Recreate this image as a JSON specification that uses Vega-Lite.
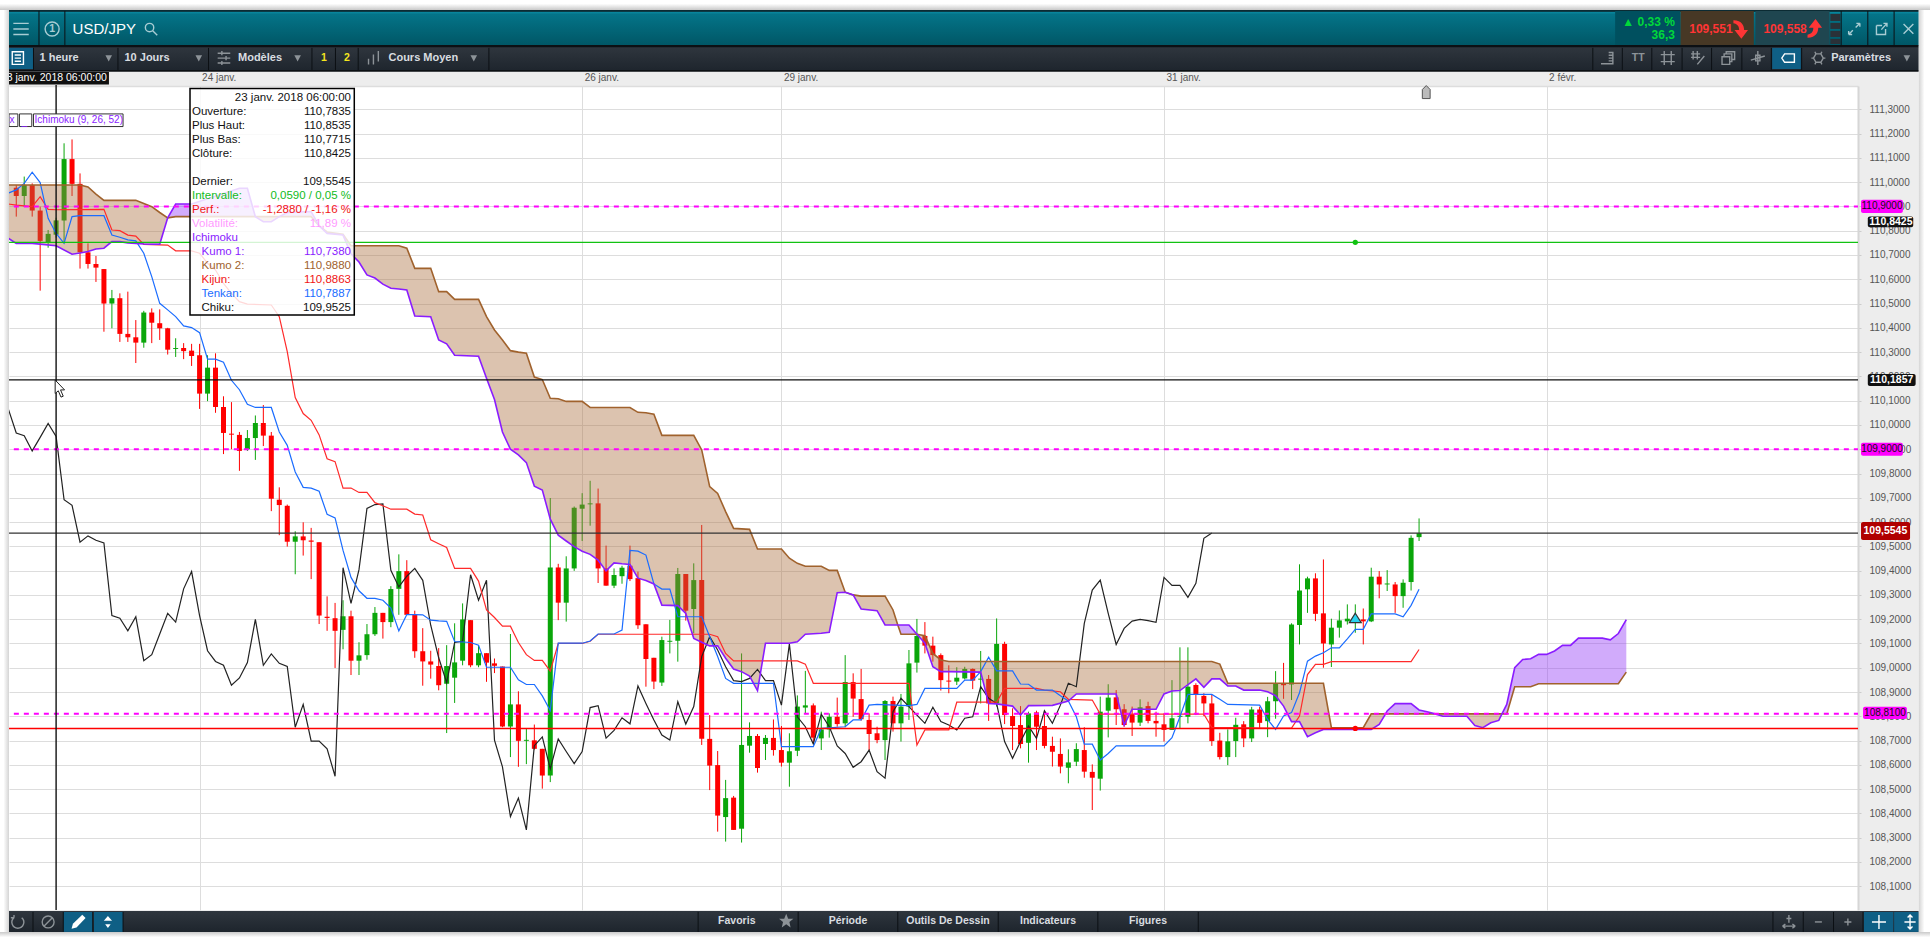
{
  "$schema": "https://vega.github.io/schema/vega-lite/v5.json",
  "width": 1849,
  "height": 824,
  "padding": {"left": 9, "top": 86, "right": 72, "bottom": 30},
  "autosize": {"type": "none"},
  "background": "#ededed",
  "config": {"font": "Liberation Sans", "view": {"fill": "#ffffff", "stroke": null}},
  "datasets": {
    "candles": [
      {"h":-23,"open":110.977,"high":110.988,"low":110.858,"close":110.943},
      {"h":-22,"open":110.943,"high":111.023,"low":110.899,"close":110.988},
      {"h":-21,"open":110.988,"high":110.995,"low":110.858,"close":110.883},
      {"h":-20,"open":110.883,"high":110.899,"low":110.553,"close":110.758},
      {"h":-19,"open":110.751,"high":110.803,"low":110.730,"close":110.787},
      {"h":-18,"open":110.7835,"high":110.8535,"low":110.7715,"close":110.8425},
      {"h":-17,"open":110.842,"high":111.160,"low":110.748,"close":111.095},
      {"h":-16,"open":111.095,"high":111.176,"low":110.943,"close":110.993},
      {"h":-15,"open":110.993,"high":111.036,"low":110.644,"close":110.711},
      {"h":-14,"open":110.711,"high":110.748,"low":110.644,"close":110.663},
      {"h":-13,"open":110.663,"high":110.696,"low":110.589,"close":110.648},
      {"h":-12,"open":110.642,"high":110.642,"low":110.384,"close":110.500},
      {"h":-11,"open":110.500,"high":110.556,"low":110.398,"close":110.522},
      {"h":-10,"open":110.522,"high":110.542,"low":110.342,"close":110.375},
      {"h":-9,"open":110.375,"high":110.549,"low":110.342,"close":110.361},
      {"h":-8,"open":110.361,"high":110.432,"low":110.255,"close":110.339},
      {"h":-7,"open":110.339,"high":110.470,"low":110.318,"close":110.463},
      {"h":-6,"open":110.463,"high":110.480,"low":110.337,"close":110.421},
      {"h":-5,"open":110.419,"high":110.476,"low":110.350,"close":110.398},
      {"h":-4,"open":110.398,"high":110.400,"low":110.290,"close":110.310},
      {"h":-3,"open":110.313,"high":110.357,"low":110.280,"close":110.317},
      {"h":-2,"open":110.317,"high":110.337,"low":110.271,"close":110.304},
      {"h":-1,"open":110.306,"high":110.334,"low":110.243,"close":110.284},
      {"h":0,"open":110.287,"high":110.334,"low":110.066,"close":110.129},
      {"h":1,"open":110.129,"high":110.287,"low":110.098,"close":110.236},
      {"h":2,"open":110.236,"high":110.295,"low":110.050,"close":110.074},
      {"h":3,"open":110.074,"high":110.118,"low":109.880,"close":109.967},
      {"h":4,"open":109.964,"high":110.094,"low":109.900,"close":109.960},
      {"h":5,"open":109.959,"high":109.971,"low":109.811,"close":109.893},
      {"h":6,"open":109.900,"high":109.979,"low":109.893,"close":109.946},
      {"h":7,"open":109.946,"high":110.039,"low":109.856,"close":110.008},
      {"h":8,"open":110.008,"high":110.082,"low":109.913,"close":109.956},
      {"h":9,"open":109.956,"high":109.971,"low":109.645,"close":109.696},
      {"h":10,"open":109.692,"high":109.743,"low":109.546,"close":109.670},
      {"h":11,"open":109.667,"high":109.672,"low":109.499,"close":109.519},
      {"h":12,"open":109.519,"high":109.562,"low":109.385,"close":109.541},
      {"h":13,"open":109.541,"high":109.599,"low":109.462,"close":109.525},
      {"h":14,"open":109.524,"high":109.576,"low":109.365,"close":109.519},
      {"h":15,"open":109.517,"high":109.517,"low":109.180,"close":109.215},
      {"h":16,"open":109.210,"high":109.294,"low":109.152,"close":109.205},
      {"h":17,"open":109.204,"high":109.267,"low":108.999,"close":109.152},
      {"h":18,"open":109.156,"high":109.278,"low":109.076,"close":109.212},
      {"h":19,"open":109.212,"high":109.235,"low":108.970,"close":109.029},
      {"h":20,"open":109.029,"high":109.105,"low":108.970,"close":109.051},
      {"h":21,"open":109.052,"high":109.180,"low":109.033,"close":109.138},
      {"h":22,"open":109.138,"high":109.250,"low":109.131,"close":109.226},
      {"h":23,"open":109.226,"high":109.226,"low":109.120,"close":109.188},
      {"h":24,"open":109.188,"high":109.336,"low":109.167,"close":109.324},
      {"h":25,"open":109.325,"high":109.467,"low":109.218,"close":109.398},
      {"h":26,"open":109.398,"high":109.443,"low":109.218,"close":109.218},
      {"h":27,"open":109.218,"high":109.235,"low":109.041,"close":109.068},
      {"h":28,"open":109.068,"high":109.163,"low":108.926,"close":109.026},
      {"h":29,"open":109.026,"high":109.070,"low":108.955,"close":109.013},
      {"h":30,"open":109.007,"high":109.081,"low":108.907,"close":108.928},
      {"h":31,"open":108.934,"high":109.093,"low":108.731,"close":109.007},
      {"h":32,"open":108.959,"high":109.183,"low":108.855,"close":109.022},
      {"h":33,"open":109.029,"high":109.265,"low":109.010,"close":109.199},
      {"h":34,"open":109.196,"high":109.196,"low":109.002,"close":109.010},
      {"h":35,"open":109.010,"high":109.093,"low":109.002,"close":109.060},
      {"h":36,"open":109.060,"high":109.060,"low":108.942,"close":109.021},
      {"h":37,"open":109.018,"high":109.038,"low":108.978,"close":109.008},
      {"h":38,"open":109.005,"high":109.005,"low":108.755,"close":108.758},
      {"h":39,"open":108.758,"high":109.139,"low":108.632,"close":108.849},
      {"h":40,"open":108.849,"high":108.903,"low":108.592,"close":108.699},
      {"h":41,"open":108.699,"high":108.750,"low":108.603,"close":108.703},
      {"h":42,"open":108.701,"high":108.766,"low":108.663,"close":108.666},
      {"h":43,"open":108.666,"high":108.666,"low":108.502,"close":108.556},
      {"h":44,"open":108.556,"high":109.699,"low":108.529,"close":109.413},
      {"h":45,"open":109.413,"high":109.428,"low":109.196,"close":109.268},
      {"h":46,"open":109.268,"high":109.459,"low":109.190,"close":109.409},
      {"h":47,"open":109.409,"high":109.664,"low":109.399,"close":109.659},
      {"h":48,"open":109.655,"high":109.719,"low":109.522,"close":109.672},
      {"h":49,"open":109.673,"high":109.770,"low":109.585,"close":109.677},
      {"h":50,"open":109.677,"high":109.738,"low":109.349,"close":109.409},
      {"h":51,"open":109.409,"high":109.503,"low":109.338,"close":109.338},
      {"h":52,"open":109.338,"high":109.409,"low":109.328,"close":109.382},
      {"h":53,"open":109.377,"high":109.420,"low":109.346,"close":109.412},
      {"h":54,"open":109.420,"high":109.503,"low":109.357,"close":109.365},
      {"h":55,"open":109.369,"high":109.396,"low":109.160,"close":109.175},
      {"h":56,"open":109.179,"high":109.179,"low":108.922,"close":109.036},
      {"h":57,"open":109.041,"high":109.041,"low":108.912,"close":108.943},
      {"h":58,"open":108.939,"high":109.128,"low":108.925,"close":109.114},
      {"h":59,"open":109.107,"high":109.197,"low":109.059,"close":109.111},
      {"h":60,"open":109.111,"high":109.411,"low":109.025,"close":109.386},
      {"h":61,"open":109.386,"high":109.386,"low":109.194,"close":109.235},
      {"h":62,"open":109.242,"high":109.430,"low":109.142,"close":109.361},
      {"h":63,"open":109.361,"high":109.588,"low":108.682,"close":108.708},
      {"h":64,"open":108.707,"high":108.805,"low":108.496,"close":108.597},
      {"h":65,"open":108.599,"high":108.657,"low":108.325,"close":108.391},
      {"h":66,"open":108.385,"high":108.538,"low":108.284,"close":108.463},
      {"h":67,"open":108.465,"high":108.472,"low":108.332,"close":108.332},
      {"h":68,"open":108.337,"high":109.059,"low":108.280,"close":108.682},
      {"h":69,"open":108.679,"high":108.775,"low":108.650,"close":108.719},
      {"h":70,"open":108.719,"high":108.727,"low":108.568,"close":108.587},
      {"h":71,"open":108.686,"high":108.723,"low":108.620,"close":108.711},
      {"h":72,"open":108.711,"high":108.787,"low":108.638,"close":108.661},
      {"h":73,"open":108.661,"high":108.760,"low":108.593,"close":108.609},
      {"h":74,"open":108.609,"high":108.730,"low":108.510,"close":108.656},
      {"h":75,"open":108.658,"high":108.886,"low":108.636,"close":108.840},
      {"h":76,"open":108.836,"high":108.987,"low":108.812,"close":108.845},
      {"h":77,"open":108.845,"high":108.853,"low":108.689,"close":108.712},
      {"h":78,"open":108.709,"high":108.819,"low":108.661,"close":108.746},
      {"h":79,"open":108.746,"high":108.812,"low":108.712,"close":108.798},
      {"h":80,"open":108.798,"high":108.877,"low":108.757,"close":108.768},
      {"h":81,"open":108.771,"high":109.052,"low":108.755,"close":108.941},
      {"h":82,"open":108.941,"high":108.977,"low":108.798,"close":108.873},
      {"h":83,"open":108.871,"high":108.995,"low":108.782,"close":108.788},
      {"h":84,"open":108.785,"high":108.812,"low":108.661,"close":108.727},
      {"h":85,"open":108.730,"high":108.757,"low":108.689,"close":108.702},
      {"h":86,"open":108.702,"high":108.867,"low":108.620,"close":108.863},
      {"h":87,"open":108.863,"high":108.881,"low":108.737,"close":108.771},
      {"h":88,"open":108.771,"high":108.892,"low":108.696,"close":108.840},
      {"h":89,"open":108.840,"high":109.073,"low":108.785,"close":109.018},
      {"h":90,"open":109.021,"high":109.201,"low":108.980,"close":109.131},
      {"h":91,"open":109.131,"high":109.188,"low":109.059,"close":109.091},
      {"h":92,"open":109.091,"high":109.128,"low":109.025,"close":109.052},
      {"h":93,"open":109.052,"high":109.059,"low":108.906,"close":108.949},
      {"h":94,"open":108.947,"high":109.010,"low":108.895,"close":108.943},
      {"h":95,"open":108.943,"high":109.002,"low":108.929,"close":108.959},
      {"h":96,"open":108.956,"high":109.004,"low":108.952,"close":108.995},
      {"h":97,"open":108.995,"high":108.997,"low":108.912,"close":108.947},
      {"h":98,"open":108.951,"high":109.069,"low":108.853,"close":108.955},
      {"h":99,"open":108.954,"high":108.970,"low":108.781,"close":108.853},
      {"h":100,"open":108.853,"high":109.203,"low":108.840,"close":109.098},
      {"h":101,"open":109.098,"high":109.107,"low":108.768,"close":108.805},
      {"h":102,"open":108.801,"high":108.833,"low":108.661,"close":108.760},
      {"h":103,"open":108.764,"high":108.842,"low":108.668,"close":108.686},
      {"h":104,"open":108.691,"high":108.819,"low":108.609,"close":108.812},
      {"h":105,"open":108.816,"high":108.823,"low":108.661,"close":108.757},
      {"h":106,"open":108.760,"high":108.823,"low":108.668,"close":108.678},
      {"h":107,"open":108.678,"high":108.716,"low":108.593,"close":108.654},
      {"h":108,"open":108.645,"high":108.709,"low":108.565,"close":108.593},
      {"h":109,"open":108.588,"high":108.664,"low":108.524,"close":108.610},
      {"h":110,"open":108.613,"high":108.689,"low":108.595,"close":108.665},
      {"h":111,"open":108.661,"high":108.755,"low":108.547,"close":108.572},
      {"h":112,"open":108.571,"high":108.602,"low":108.414,"close":108.547},
      {"h":113,"open":108.543,"high":108.881,"low":108.494,"close":108.819},
      {"h":114,"open":108.823,"high":108.932,"low":108.713,"close":108.877},
      {"h":115,"open":108.878,"high":108.908,"low":108.764,"close":108.829},
      {"h":116,"open":108.829,"high":108.850,"low":108.757,"close":108.764},
      {"h":117,"open":108.809,"high":108.840,"low":108.719,"close":108.774},
      {"h":118,"open":108.774,"high":108.870,"low":108.760,"close":108.837},
      {"h":119,"open":108.842,"high":108.860,"low":108.771,"close":108.781},
      {"h":120,"open":108.781,"high":108.819,"low":108.716,"close":108.771},
      {"h":121,"open":108.767,"high":108.812,"low":108.696,"close":108.744},
      {"h":122,"open":108.744,"high":108.949,"low":108.744,"close":108.792},
      {"h":123,"open":108.798,"high":109.084,"low":108.750,"close":108.802},
      {"h":124,"open":108.798,"high":109.084,"low":108.771,"close":108.922},
      {"h":125,"open":108.929,"high":108.936,"low":108.805,"close":108.888},
      {"h":126,"open":108.884,"high":108.895,"low":108.801,"close":108.853},
      {"h":127,"open":108.853,"high":108.888,"low":108.678,"close":108.698},
      {"h":128,"open":108.700,"high":108.732,"low":108.622,"close":108.632},
      {"h":129,"open":108.632,"high":108.746,"low":108.599,"close":108.697},
      {"h":130,"open":108.698,"high":108.794,"low":108.632,"close":108.765},
      {"h":131,"open":108.767,"high":108.780,"low":108.673,"close":108.709},
      {"h":132,"open":108.709,"high":108.839,"low":108.694,"close":108.828},
      {"h":133,"open":108.828,"high":108.839,"low":108.749,"close":108.773},
      {"h":134,"open":108.780,"high":108.880,"low":108.714,"close":108.862},
      {"h":135,"open":108.862,"high":108.986,"low":108.790,"close":108.936},
      {"h":136,"open":108.935,"high":109.020,"low":108.872,"close":108.928},
      {"h":137,"open":108.931,"high":109.183,"low":108.867,"close":109.178},
      {"h":138,"open":109.176,"high":109.426,"low":109.096,"close":109.318},
      {"h":139,"open":109.323,"high":109.375,"low":109.226,"close":109.368},
      {"h":140,"open":109.368,"high":109.389,"low":109.192,"close":109.222},
      {"h":141,"open":109.224,"high":109.446,"low":109.000,"close":109.100},
      {"h":142,"open":109.096,"high":109.202,"low":109.003,"close":109.165},
      {"h":143,"open":109.165,"high":109.236,"low":109.124,"close":109.195},
      {"h":144,"open":109.191,"high":109.261,"low":109.178,"close":109.202},
      {"h":145,"open":109.188,"high":109.261,"low":109.144,"close":109.198},
      {"h":146,"open":109.199,"high":109.244,"low":109.096,"close":109.191},
      {"h":147,"open":109.191,"high":109.412,"low":109.188,"close":109.375},
      {"h":148,"open":109.375,"high":109.398,"low":109.286,"close":109.343},
      {"h":149,"open":109.343,"high":109.402,"low":109.316,"close":109.347},
      {"h":150,"open":109.343,"high":109.353,"low":109.226,"close":109.295},
      {"h":151,"open":109.295,"high":109.364,"low":109.247,"close":109.350},
      {"h":152,"open":109.353,"high":109.545,"low":109.318,"close":109.535},
      {"h":153,"open":109.538,"high":109.615,"low":109.522,"close":109.5545}
    ],
    "kumo": [
      {"cloud":"a","tone":"cloudDown","h":-24,"p":110.769,"p2":110.988},
      {"cloud":"a","tone":"cloudDown","h":-23,"p":110.748,"p2":110.988},
      {"cloud":"a","tone":"cloudDown","h":-21,"p":110.748,"p2":110.988},
      {"cloud":"a","tone":"cloudDown","h":-18,"p":110.738,"p2":110.988},
      {"cloud":"a","tone":"cloudDown","h":-16,"p":110.703,"p2":110.988},
      {"cloud":"a","tone":"cloudDown","h":-15,"p":110.708,"p2":110.988},
      {"cloud":"a","tone":"cloudDown","h":-14,"p":110.714,"p2":110.980},
      {"cloud":"a","tone":"cloudDown","h":-13,"p":110.725,"p2":110.951},
      {"cloud":"a","tone":"cloudDown","h":-12,"p":110.728,"p2":110.925},
      {"cloud":"a","tone":"cloudDown","h":-11,"p":110.755,"p2":110.925},
      {"cloud":"a","tone":"cloudDown","h":-10,"p":110.755,"p2":110.925},
      {"cloud":"a","tone":"cloudDown","h":-9,"p":110.750,"p2":110.925},
      {"cloud":"a","tone":"cloudDown","h":-8,"p":110.748,"p2":110.925},
      {"cloud":"a","tone":"cloudDown","h":-7,"p":110.745,"p2":110.912},
      {"cloud":"a","tone":"cloudDown","h":-6,"p":110.744,"p2":110.899},
      {"cloud":"a","tone":"cloudDown","h":-5,"p":110.744,"p2":110.875},
      {"cloud":"a","tone":"cloudDown","h":-4,"p":110.853,"p2":110.853},
      {"cloud":"b","tone":"cloudUp","h":-4,"p":110.853,"p2":110.853},
      {"cloud":"b","tone":"cloudUp","h":-3,"p":110.910,"p2":110.858},
      {"cloud":"b","tone":"cloudUp","h":-1,"p":110.910,"p2":110.858},
      {"cloud":"b","tone":"cloudUp","h":5,"p":110.975,"p2":110.858},
      {"cloud":"b","tone":"cloudUp","h":6,"p":110.975,"p2":110.858},
      {"cloud":"b","tone":"cloudUp","h":7,"p":110.858,"p2":110.858},
      {"cloud":"c","tone":"cloudDown","h":7,"p":110.858,"p2":110.858},
      {"cloud":"c","tone":"cloudDown","h":8,"p":110.837,"p2":110.858},
      {"cloud":"c","tone":"cloudDown","h":9,"p":110.837,"p2":110.858},
      {"cloud":"c","tone":"cloudDown","h":10,"p":110.858,"p2":110.858},
      {"cloud":"d","tone":"cloudUp","h":10,"p":110.858,"p2":110.858},
      {"cloud":"d","tone":"cloudUp","h":11,"p":110.875,"p2":110.858},
      {"cloud":"d","tone":"cloudUp","h":14,"p":110.879,"p2":110.858},
      {"cloud":"d","tone":"cloudUp","h":15,"p":110.820,"p2":110.820},
      {"cloud":"e","tone":"cloudDown","h":15,"p":110.820,"p2":110.820},
      {"cloud":"e","tone":"cloudDown","h":16,"p":110.789,"p2":110.795},
      {"cloud":"e","tone":"cloudDown","h":18,"p":110.782,"p2":110.785},
      {"cloud":"e","tone":"cloudDown","h":19,"p":110.705,"p2":110.738},
      {"cloud":"e","tone":"cloudDown","h":20,"p":110.671,"p2":110.738},
      {"cloud":"e","tone":"cloudDown","h":21,"p":110.618,"p2":110.738},
      {"cloud":"e","tone":"cloudDown","h":22,"p":110.605,"p2":110.738},
      {"cloud":"e","tone":"cloudDown","h":23,"p":110.580,"p2":110.738},
      {"cloud":"e","tone":"cloudDown","h":24,"p":110.563,"p2":110.738},
      {"cloud":"e","tone":"cloudDown","h":25,"p":110.560,"p2":110.738},
      {"cloud":"e","tone":"cloudDown","h":26,"p":110.556,"p2":110.728},
      {"cloud":"e","tone":"cloudDown","h":27,"p":110.449,"p2":110.645},
      {"cloud":"e","tone":"cloudDown","h":29,"p":110.446,"p2":110.645},
      {"cloud":"e","tone":"cloudDown","h":30,"p":110.350,"p2":110.549},
      {"cloud":"e","tone":"cloudDown","h":31,"p":110.334,"p2":110.549},
      {"cloud":"e","tone":"cloudDown","h":32,"p":110.287,"p2":110.517},
      {"cloud":"e","tone":"cloudDown","h":35,"p":110.283,"p2":110.517},
      {"cloud":"e","tone":"cloudDown","h":36,"p":110.192,"p2":110.446},
      {"cloud":"e","tone":"cloudDown","h":37,"p":110.105,"p2":110.391},
      {"cloud":"e","tone":"cloudDown","h":38,"p":109.971,"p2":110.350},
      {"cloud":"e","tone":"cloudDown","h":39,"p":109.900,"p2":110.306},
      {"cloud":"e","tone":"cloudDown","h":40,"p":109.877,"p2":110.300},
      {"cloud":"e","tone":"cloudDown","h":41,"p":109.845,"p2":110.295},
      {"cloud":"e","tone":"cloudDown","h":42,"p":109.748,"p2":110.197},
      {"cloud":"e","tone":"cloudDown","h":43,"p":109.732,"p2":110.187},
      {"cloud":"e","tone":"cloudDown","h":44,"p":109.612,"p2":110.110},
      {"cloud":"e","tone":"cloudDown","h":45,"p":109.546,"p2":110.108},
      {"cloud":"e","tone":"cloudDown","h":46,"p":109.522,"p2":110.097},
      {"cloud":"e","tone":"cloudDown","h":47,"p":109.499,"p2":110.097},
      {"cloud":"e","tone":"cloudDown","h":48,"p":109.480,"p2":110.097},
      {"cloud":"e","tone":"cloudDown","h":49,"p":109.467,"p2":110.072},
      {"cloud":"e","tone":"cloudDown","h":50,"p":109.443,"p2":110.072},
      {"cloud":"e","tone":"cloudDown","h":51,"p":109.399,"p2":110.072},
      {"cloud":"e","tone":"cloudDown","h":52,"p":109.432,"p2":110.072},
      {"cloud":"e","tone":"cloudDown","h":53,"p":109.428,"p2":110.072},
      {"cloud":"e","tone":"cloudDown","h":54,"p":109.425,"p2":110.072},
      {"cloud":"e","tone":"cloudDown","h":55,"p":109.369,"p2":110.052},
      {"cloud":"e","tone":"cloudDown","h":56,"p":109.359,"p2":110.050},
      {"cloud":"e","tone":"cloudDown","h":57,"p":109.345,"p2":110.044},
      {"cloud":"e","tone":"cloudDown","h":58,"p":109.258,"p2":109.957},
      {"cloud":"e","tone":"cloudDown","h":60,"p":109.256,"p2":109.957},
      {"cloud":"e","tone":"cloudDown","h":61,"p":109.224,"p2":109.957},
      {"cloud":"e","tone":"cloudDown","h":62,"p":109.121,"p2":109.957},
      {"cloud":"e","tone":"cloudDown","h":63,"p":109.105,"p2":109.897},
      {"cloud":"e","tone":"cloudDown","h":64,"p":109.090,"p2":109.746},
      {"cloud":"e","tone":"cloudDown","h":65,"p":109.090,"p2":109.718},
      {"cloud":"e","tone":"cloudDown","h":66,"p":109.039,"p2":109.643},
      {"cloud":"e","tone":"cloudDown","h":67,"p":108.995,"p2":109.574},
      {"cloud":"e","tone":"cloudDown","h":68,"p":108.984,"p2":109.572},
      {"cloud":"e","tone":"cloudDown","h":69,"p":108.966,"p2":109.570},
      {"cloud":"e","tone":"cloudDown","h":70,"p":108.906,"p2":109.489},
      {"cloud":"e","tone":"cloudDown","h":71,"p":109.101,"p2":109.489},
      {"cloud":"e","tone":"cloudDown","h":73,"p":109.101,"p2":109.489},
      {"cloud":"e","tone":"cloudDown","h":74,"p":109.101,"p2":109.451},
      {"cloud":"e","tone":"cloudDown","h":75,"p":109.107,"p2":109.430},
      {"cloud":"e","tone":"cloudDown","h":76,"p":109.138,"p2":109.418},
      {"cloud":"e","tone":"cloudDown","h":78,"p":109.142,"p2":109.418},
      {"cloud":"e","tone":"cloudDown","h":79,"p":109.146,"p2":109.401},
      {"cloud":"e","tone":"cloudDown","h":80,"p":109.309,"p2":109.401},
      {"cloud":"e","tone":"cloudDown","h":81,"p":109.311,"p2":109.311},
      {"cloud":"e","tone":"cloudDown","h":82,"p":109.300,"p2":109.300},
      {"cloud":"e","tone":"cloudDown","h":83,"p":109.242,"p2":109.295},
      {"cloud":"e","tone":"cloudDown","h":85,"p":109.235,"p2":109.295},
      {"cloud":"e","tone":"cloudDown","h":86,"p":109.176,"p2":109.295},
      {"cloud":"e","tone":"cloudDown","h":87,"p":109.176,"p2":109.238},
      {"cloud":"e","tone":"cloudDown","h":87.6,"p":109.176,"p2":109.176},
      {"cloud":"f","tone":"cloudUp","h":87.6,"p":109.176,"p2":109.176},
      {"cloud":"f","tone":"cloudUp","h":88,"p":109.176,"p2":109.138},
      {"cloud":"f","tone":"cloudUp","h":89,"p":109.176,"p2":109.138},
      {"cloud":"f","tone":"cloudUp","h":90,"p":109.138,"p2":109.138},
      {"cloud":"g","tone":"cloudDown","h":90,"p":109.138,"p2":109.138},
      {"cloud":"g","tone":"cloudDown","h":91,"p":109.101,"p2":109.132},
      {"cloud":"g","tone":"cloudDown","h":92,"p":109.004,"p2":109.059},
      {"cloud":"g","tone":"cloudDown","h":93,"p":108.984,"p2":109.032},
      {"cloud":"g","tone":"cloudDown","h":94,"p":108.984,"p2":109.026},
      {"cloud":"g","tone":"cloudDown","h":98,"p":108.982,"p2":109.026},
      {"cloud":"g","tone":"cloudDown","h":99,"p":108.853,"p2":109.026},
      {"cloud":"g","tone":"cloudDown","h":100,"p":108.851,"p2":109.026},
      {"cloud":"g","tone":"cloudDown","h":102,"p":108.842,"p2":109.026},
      {"cloud":"g","tone":"cloudDown","h":103,"p":108.805,"p2":109.026},
      {"cloud":"g","tone":"cloudDown","h":104,"p":108.844,"p2":109.026},
      {"cloud":"g","tone":"cloudDown","h":107,"p":108.845,"p2":109.026},
      {"cloud":"g","tone":"cloudDown","h":109,"p":108.863,"p2":109.026},
      {"cloud":"g","tone":"cloudDown","h":110,"p":108.892,"p2":109.026},
      {"cloud":"g","tone":"cloudDown","h":115,"p":108.892,"p2":109.026},
      {"cloud":"g","tone":"cloudDown","h":116,"p":108.764,"p2":109.026},
      {"cloud":"g","tone":"cloudDown","h":117,"p":108.829,"p2":109.026},
      {"cloud":"g","tone":"cloudDown","h":120,"p":108.829,"p2":109.026},
      {"cloud":"g","tone":"cloudDown","h":121,"p":108.892,"p2":109.026},
      {"cloud":"g","tone":"cloudDown","h":122,"p":108.904,"p2":109.026},
      {"cloud":"g","tone":"cloudDown","h":123,"p":108.906,"p2":109.026},
      {"cloud":"g","tone":"cloudDown","h":125,"p":108.954,"p2":109.026},
      {"cloud":"g","tone":"cloudDown","h":126,"p":108.919,"p2":109.026},
      {"cloud":"g","tone":"cloudDown","h":127,"p":108.954,"p2":109.026},
      {"cloud":"g","tone":"cloudDown","h":128,"p":108.954,"p2":109.015},
      {"cloud":"g","tone":"cloudDown","h":129,"p":108.925,"p2":108.936},
      {"cloud":"g","tone":"cloudDown","h":130,"p":108.925,"p2":108.936},
      {"cloud":"g","tone":"cloudDown","h":131,"p":108.908,"p2":108.936},
      {"cloud":"g","tone":"cloudDown","h":133,"p":108.908,"p2":108.936},
      {"cloud":"g","tone":"cloudDown","h":134,"p":108.901,"p2":108.936},
      {"cloud":"g","tone":"cloudDown","h":135,"p":108.885,"p2":108.936},
      {"cloud":"g","tone":"cloudDown","h":136,"p":108.842,"p2":108.936},
      {"cloud":"g","tone":"cloudDown","h":137,"p":108.778,"p2":108.936},
      {"cloud":"g","tone":"cloudDown","h":138,"p":108.778,"p2":108.936},
      {"cloud":"g","tone":"cloudDown","h":139,"p":108.716,"p2":108.936},
      {"cloud":"g","tone":"cloudDown","h":140,"p":108.732,"p2":108.936},
      {"cloud":"g","tone":"cloudDown","h":141,"p":108.746,"p2":108.936},
      {"cloud":"g","tone":"cloudDown","h":142,"p":108.746,"p2":108.753},
      {"cloud":"g","tone":"cloudDown","h":146,"p":108.746,"p2":108.753},
      {"cloud":"g","tone":"cloudDown","h":147,"p":108.746,"p2":108.810},
      {"cloud":"g","tone":"cloudDown","h":148,"p":108.767,"p2":108.810},
      {"cloud":"g","tone":"cloudDown","h":148.8,"p":108.810,"p2":108.810},
      {"cloud":"h","tone":"cloudUp","h":148.8,"p":108.810,"p2":108.810},
      {"cloud":"h","tone":"cloudUp","h":149,"p":108.822,"p2":108.810},
      {"cloud":"h","tone":"cloudUp","h":150,"p":108.852,"p2":108.810},
      {"cloud":"h","tone":"cloudUp","h":152,"p":108.852,"p2":108.810},
      {"cloud":"h","tone":"cloudUp","h":153,"p":108.826,"p2":108.810},
      {"cloud":"h","tone":"cloudUp","h":154,"p":108.819,"p2":108.810},
      {"cloud":"h","tone":"cloudUp","h":155,"p":108.810,"p2":108.810},
      {"cloud":"i","tone":"cloudDown","h":155,"p":108.810,"p2":108.810},
      {"cloud":"i","tone":"cloudDown","h":156,"p":108.800,"p2":108.810},
      {"cloud":"i","tone":"cloudDown","h":159,"p":108.800,"p2":108.810},
      {"cloud":"i","tone":"cloudDown","h":160,"p":108.762,"p2":108.810},
      {"cloud":"i","tone":"cloudDown","h":161,"p":108.753,"p2":108.810},
      {"cloud":"i","tone":"cloudDown","h":162,"p":108.773,"p2":108.810},
      {"cloud":"i","tone":"cloudDown","h":163,"p":108.783,"p2":108.810},
      {"cloud":"i","tone":"cloudDown","h":163.4,"p":108.810,"p2":108.810},
      {"cloud":"j","tone":"cloudUp","h":163.4,"p":108.810,"p2":108.810},
      {"cloud":"j","tone":"cloudUp","h":164,"p":108.849,"p2":108.810},
      {"cloud":"j","tone":"cloudUp","h":165,"p":109.000,"p2":108.922},
      {"cloud":"j","tone":"cloudUp","h":166,"p":109.034,"p2":108.922},
      {"cloud":"j","tone":"cloudUp","h":167,"p":109.037,"p2":108.922},
      {"cloud":"j","tone":"cloudUp","h":168,"p":109.055,"p2":108.934},
      {"cloud":"j","tone":"cloudUp","h":169,"p":109.055,"p2":108.934},
      {"cloud":"j","tone":"cloudUp","h":170,"p":109.069,"p2":108.934},
      {"cloud":"j","tone":"cloudUp","h":171,"p":109.092,"p2":108.934},
      {"cloud":"j","tone":"cloudUp","h":172,"p":109.092,"p2":108.934},
      {"cloud":"j","tone":"cloudUp","h":173,"p":109.122,"p2":108.934},
      {"cloud":"j","tone":"cloudUp","h":176,"p":109.122,"p2":108.934},
      {"cloud":"j","tone":"cloudUp","h":177,"p":109.115,"p2":108.934},
      {"cloud":"j","tone":"cloudUp","h":178,"p":109.141,"p2":108.934},
      {"cloud":"j","tone":"cloudUp","h":179,"p":109.198,"p2":108.982}
    ],
    "chikou": [
      {"tone":"chikou","h":-24,"p":110.066},{"tone":"chikou","h":-23,"p":109.967},{"tone":"chikou","h":-22,"p":109.956},{"tone":"chikou","h":-21,"p":109.893},
      {"tone":"chikou","h":-20,"p":109.949},{"tone":"chikou","h":-19,"p":110.006},{"tone":"chikou","h":-18,"p":109.9525},{"tone":"chikou","h":-17,"p":109.692},
      {"tone":"chikou","h":-16,"p":109.669},{"tone":"chikou","h":-15,"p":109.517},{"tone":"chikou","h":-14,"p":109.543},{"tone":"chikou","h":-13,"p":109.525},
      {"tone":"chikou","h":-12,"p":109.514},{"tone":"chikou","h":-11,"p":109.215},{"tone":"chikou","h":-10,"p":109.204},{"tone":"chikou","h":-9,"p":109.152},
      {"tone":"chikou","h":-8,"p":109.210},{"tone":"chikou","h":-7,"p":109.029},{"tone":"chikou","h":-6,"p":109.054},{"tone":"chikou","h":-5,"p":109.139},
      {"tone":"chikou","h":-4,"p":109.224},{"tone":"chikou","h":-3,"p":109.188},{"tone":"chikou","h":-2,"p":109.325},{"tone":"chikou","h":-1,"p":109.396},
      {"tone":"chikou","h":0,"p":109.215},{"tone":"chikou","h":1,"p":109.070},{"tone":"chikou","h":2,"p":109.026},{"tone":"chikou","h":3,"p":109.010},
      {"tone":"chikou","h":4,"p":108.928},{"tone":"chikou","h":5,"p":108.958},{"tone":"chikou","h":6,"p":109.021},{"tone":"chikou","h":7,"p":109.199},
      {"tone":"chikou","h":8,"p":109.010},{"tone":"chikou","h":9,"p":109.057},{"tone":"chikou","h":10,"p":109.018},{"tone":"chikou","h":11,"p":109.005},
      {"tone":"chikou","h":12,"p":108.755},{"tone":"chikou","h":13,"p":108.849},{"tone":"chikou","h":14,"p":108.698},{"tone":"chikou","h":15,"p":108.698},
      {"tone":"chikou","h":16,"p":108.666},{"tone":"chikou","h":17,"p":108.553},{"tone":"chikou","h":18,"p":109.412},{"tone":"chikou","h":19,"p":109.265},
      {"tone":"chikou","h":20,"p":109.404},{"tone":"chikou","h":21,"p":109.656},{"tone":"chikou","h":22,"p":109.672},{"tone":"chikou","h":23,"p":109.675},
      {"tone":"chikou","h":24,"p":109.401},{"tone":"chikou","h":25,"p":109.333},{"tone":"chikou","h":26,"p":109.377},{"tone":"chikou","h":27,"p":109.409},
      {"tone":"chikou","h":28,"p":109.360},{"tone":"chikou","h":29,"p":109.175},{"tone":"chikou","h":30,"p":109.041},{"tone":"chikou","h":31,"p":108.939},
      {"tone":"chikou","h":32,"p":109.104},{"tone":"chikou","h":33,"p":109.109},{"tone":"chikou","h":34,"p":109.383},{"tone":"chikou","h":35,"p":109.278},
      {"tone":"chikou","h":36,"p":109.360},{"tone":"chikou","h":37,"p":108.702},{"tone":"chikou","h":38,"p":108.592},{"tone":"chikou","h":39,"p":108.387},
      {"tone":"chikou","h":40,"p":108.463},{"tone":"chikou","h":41,"p":108.332},{"tone":"chikou","h":42,"p":108.679},{"tone":"chikou","h":43,"p":108.715},
      {"tone":"chikou","h":44,"p":108.584},{"tone":"chikou","h":45,"p":108.707},{"tone":"chikou","h":46,"p":108.655},{"tone":"chikou","h":47,"p":108.605},
      {"tone":"chikou","h":48,"p":108.655},{"tone":"chikou","h":49,"p":108.836},{"tone":"chikou","h":50,"p":108.844},{"tone":"chikou","h":51,"p":108.710},
      {"tone":"chikou","h":52,"p":108.742},{"tone":"chikou","h":53,"p":108.794},{"tone":"chikou","h":54,"p":108.769},{"tone":"chikou","h":55,"p":108.925},
      {"tone":"chikou","h":56,"p":108.853},{"tone":"chikou","h":57,"p":108.785},{"tone":"chikou","h":58,"p":108.723},{"tone":"chikou","h":59,"p":108.702},
      {"tone":"chikou","h":60,"p":108.860},{"tone":"chikou","h":61,"p":108.768},{"tone":"chikou","h":62,"p":108.840},{"tone":"chikou","h":63,"p":109.046},
      {"tone":"chikou","h":64,"p":109.128},{"tone":"chikou","h":65,"p":109.073},{"tone":"chikou","h":66,"p":109.004},{"tone":"chikou","h":67,"p":108.947},
      {"tone":"chikou","h":68,"p":108.943},{"tone":"chikou","h":69,"p":108.956},{"tone":"chikou","h":70,"p":108.993},{"tone":"chikou","h":71,"p":108.947},
      {"tone":"chikou","h":72,"p":108.947},{"tone":"chikou","h":73,"p":108.846},{"tone":"chikou","h":74,"p":109.098},{"tone":"chikou","h":75,"p":108.798},
      {"tone":"chikou","h":76,"p":108.757},{"tone":"chikou","h":77,"p":108.686},{"tone":"chikou","h":78,"p":108.809},{"tone":"chikou","h":79,"p":108.757},
      {"tone":"chikou","h":80,"p":108.678},{"tone":"chikou","h":81,"p":108.647},{"tone":"chikou","h":82,"p":108.590},{"tone":"chikou","h":83,"p":108.613},
      {"tone":"chikou","h":84,"p":108.661},{"tone":"chikou","h":85,"p":108.572},{"tone":"chikou","h":86,"p":108.545},{"tone":"chikou","h":87,"p":108.819},
      {"tone":"chikou","h":88,"p":108.874},{"tone":"chikou","h":89,"p":108.840},{"tone":"chikou","h":90,"p":108.805},{"tone":"chikou","h":91,"p":108.771},
      {"tone":"chikou","h":92,"p":108.837},{"tone":"chikou","h":93,"p":108.778},{"tone":"chikou","h":94,"p":108.764},{"tone":"chikou","h":95,"p":108.744},
      {"tone":"chikou","h":96,"p":108.792},{"tone":"chikou","h":97,"p":108.798},{"tone":"chikou","h":98,"p":108.922},{"tone":"chikou","h":99,"p":108.874},
      {"tone":"chikou","h":100,"p":108.853},{"tone":"chikou","h":101,"p":108.696},{"tone":"chikou","h":102,"p":108.627},{"tone":"chikou","h":103,"p":108.696},
      {"tone":"chikou","h":104,"p":108.760},{"tone":"chikou","h":105,"p":108.709},{"tone":"chikou","h":106,"p":108.823},{"tone":"chikou","h":107,"p":108.771},
      {"tone":"chikou","h":108,"p":108.846},{"tone":"chikou","h":109,"p":108.936},{"tone":"chikou","h":110,"p":108.922},{"tone":"chikou","h":111,"p":109.183},
      {"tone":"chikou","h":112,"p":109.320},{"tone":"chikou","h":113,"p":109.361},{"tone":"chikou","h":114,"p":109.224},{"tone":"chikou","h":115,"p":109.096},
      {"tone":"chikou","h":116,"p":109.162},{"tone":"chikou","h":117,"p":109.192},{"tone":"chikou","h":118,"p":109.199},{"tone":"chikou","h":119,"p":109.194},
      {"tone":"chikou","h":120,"p":109.187},{"tone":"chikou","h":121,"p":109.372},{"tone":"chikou","h":122,"p":109.339},{"tone":"chikou","h":123,"p":109.339},
      {"tone":"chikou","h":124,"p":109.290},{"tone":"chikou","h":125,"p":109.348},{"tone":"chikou","h":126,"p":109.533},{"tone":"chikou","h":127,"p":109.5545}
    ],
    "tenkan": [
      {"tone":"tenkan","h":-24,"p":110.955},{"tone":"tenkan","h":-23,"p":110.968},{"tone":"tenkan","h":-22,"p":110.995},{"tone":"tenkan","h":-21,"p":111.041},
      {"tone":"tenkan","h":-20,"p":110.998},{"tone":"tenkan","h":-19,"p":110.851},{"tone":"tenkan","h":-18,"p":110.7887},{"tone":"tenkan","h":-17,"p":110.748},
      {"tone":"tenkan","h":-16,"p":110.858},{"tone":"tenkan","h":-15,"p":110.862},{"tone":"tenkan","h":-12,"p":110.862},{"tone":"tenkan","h":-11,"p":110.782},
      {"tone":"tenkan","h":-10,"p":110.773},{"tone":"tenkan","h":-9,"p":110.762},{"tone":"tenkan","h":-8,"p":110.758},{"tone":"tenkan","h":-7,"p":110.707},
      {"tone":"tenkan","h":-6,"p":110.611},{"tone":"tenkan","h":-5,"p":110.501},{"tone":"tenkan","h":-4,"p":110.474},{"tone":"tenkan","h":-3,"p":110.446},
      {"tone":"tenkan","h":-2,"p":110.408},{"tone":"tenkan","h":-1,"p":110.401},{"tone":"tenkan","h":0,"p":110.380},{"tone":"tenkan","h":1,"p":110.271},
      {"tone":"tenkan","h":2,"p":110.271},{"tone":"tenkan","h":3,"p":110.258},{"tone":"tenkan","h":4,"p":110.184},{"tone":"tenkan","h":5,"p":110.145},
      {"tone":"tenkan","h":6,"p":110.085},{"tone":"tenkan","h":7,"p":110.072},{"tone":"tenkan","h":9,"p":110.072},{"tone":"tenkan","h":10,"p":109.971},
      {"tone":"tenkan","h":11,"p":109.916},{"tone":"tenkan","h":12,"p":109.806},{"tone":"tenkan","h":13,"p":109.743},{"tone":"tenkan","h":14,"p":109.740},
      {"tone":"tenkan","h":15,"p":109.727},{"tone":"tenkan","h":16,"p":109.632},{"tone":"tenkan","h":17,"p":109.617},{"tone":"tenkan","h":18,"p":109.483},
      {"tone":"tenkan","h":19,"p":109.372},{"tone":"tenkan","h":20,"p":109.317},{"tone":"tenkan","h":21,"p":109.286},{"tone":"tenkan","h":22,"p":109.286},
      {"tone":"tenkan","h":23,"p":109.278},{"tone":"tenkan","h":24,"p":109.246},{"tone":"tenkan","h":25,"p":109.152},{"tone":"tenkan","h":26,"p":109.219},
      {"tone":"tenkan","h":27,"p":109.219},{"tone":"tenkan","h":28,"p":109.218},{"tone":"tenkan","h":29,"p":109.196},{"tone":"tenkan","h":30,"p":109.193},
      {"tone":"tenkan","h":31,"p":109.191},{"tone":"tenkan","h":32,"p":109.108},{"tone":"tenkan","h":33,"p":109.106},{"tone":"tenkan","h":34,"p":109.104},
      {"tone":"tenkan","h":35,"p":109.093},{"tone":"tenkan","h":36,"p":109.002},{"tone":"tenkan","h":39,"p":109.002},{"tone":"tenkan","h":40,"p":108.950},
      {"tone":"tenkan","h":41,"p":108.931},{"tone":"tenkan","h":42,"p":108.931},{"tone":"tenkan","h":43,"p":108.884},{"tone":"tenkan","h":44,"p":108.824},
      {"tone":"tenkan","h":45,"p":109.101},{"tone":"tenkan","h":48,"p":109.101},{"tone":"tenkan","h":49,"p":109.110},{"tone":"tenkan","h":50,"p":109.139},
      {"tone":"tenkan","h":52,"p":109.139},{"tone":"tenkan","h":53,"p":109.155},{"tone":"tenkan","h":54,"p":109.483},{"tone":"tenkan","h":55,"p":109.480},
      {"tone":"tenkan","h":56,"p":109.464},{"tone":"tenkan","h":57,"p":109.345},{"tone":"tenkan","h":58,"p":109.324},{"tone":"tenkan","h":59,"p":109.324},
      {"tone":"tenkan","h":60,"p":109.210},{"tone":"tenkan","h":63,"p":109.210},{"tone":"tenkan","h":64,"p":109.128},{"tone":"tenkan","h":65,"p":109.046},
      {"tone":"tenkan","h":66,"p":108.956},{"tone":"tenkan","h":67,"p":108.936},{"tone":"tenkan","h":72,"p":108.936},{"tone":"tenkan","h":73,"p":108.675},
      {"tone":"tenkan","h":77,"p":108.675},{"tone":"tenkan","h":78,"p":108.750},{"tone":"tenkan","h":81,"p":108.757},{"tone":"tenkan","h":82,"p":108.785},
      {"tone":"tenkan","h":83,"p":108.785},{"tone":"tenkan","h":84,"p":108.846},{"tone":"tenkan","h":85,"p":108.849},{"tone":"tenkan","h":88,"p":108.845},
      {"tone":"tenkan","h":89,"p":108.844},{"tone":"tenkan","h":90,"p":108.849},{"tone":"tenkan","h":91,"p":108.915},{"tone":"tenkan","h":95,"p":108.915},
      {"tone":"tenkan","h":96,"p":108.949},{"tone":"tenkan","h":97,"p":108.949},{"tone":"tenkan","h":98,"p":108.984},{"tone":"tenkan","h":99,"p":109.043},
      {"tone":"tenkan","h":100,"p":108.987},{"tone":"tenkan","h":102,"p":108.987},{"tone":"tenkan","h":103,"p":108.933},{"tone":"tenkan","h":104,"p":108.932},
      {"tone":"tenkan","h":105,"p":108.908},{"tone":"tenkan","h":107,"p":108.908},{"tone":"tenkan","h":108,"p":108.885},{"tone":"tenkan","h":109,"p":108.863},
      {"tone":"tenkan","h":110,"p":108.798},{"tone":"tenkan","h":111,"p":108.685},{"tone":"tenkan","h":112,"p":108.685},{"tone":"tenkan","h":113,"p":108.620},
      {"tone":"tenkan","h":114,"p":108.647},{"tone":"tenkan","h":115,"p":108.678},{"tone":"tenkan","h":121,"p":108.678},{"tone":"tenkan","h":122,"p":108.712},
      {"tone":"tenkan","h":123,"p":108.798},{"tone":"tenkan","h":124,"p":108.890},{"tone":"tenkan","h":127,"p":108.890},{"tone":"tenkan","h":128,"p":108.870},
      {"tone":"tenkan","h":129,"p":108.849},{"tone":"tenkan","h":133,"p":108.846},{"tone":"tenkan","h":134,"p":108.787},{"tone":"tenkan","h":135,"p":108.746},
      {"tone":"tenkan","h":136,"p":108.801},{"tone":"tenkan","h":137,"p":108.815},{"tone":"tenkan","h":138,"p":108.897},{"tone":"tenkan","h":139,"p":109.027},
      {"tone":"tenkan","h":140,"p":109.048},{"tone":"tenkan","h":141,"p":109.062},{"tone":"tenkan","h":142,"p":109.082},{"tone":"tenkan","h":143,"p":109.082},
      {"tone":"tenkan","h":144,"p":109.119},{"tone":"tenkan","h":145,"p":109.158},{"tone":"tenkan","h":146,"p":109.158},{"tone":"tenkan","h":147,"p":109.222},
      {"tone":"tenkan","h":150,"p":109.222},{"tone":"tenkan","h":151,"p":109.210},{"tone":"tenkan","h":152,"p":109.257},{"tone":"tenkan","h":153,"p":109.323}
    ],
    "kijun": [
      {"tone":"kijun","h":-24,"p":110.910},{"tone":"kijun","h":-23,"p":110.905},{"tone":"kijun","h":-21,"p":110.899},{"tone":"kijun","h":-20,"p":110.940},
      {"tone":"kijun","h":-19,"p":110.888},{"tone":"kijun","h":-18,"p":110.8863},{"tone":"kijun","h":-12,"p":110.888},{"tone":"kijun","h":-11,"p":110.803},
      {"tone":"kijun","h":-10,"p":110.800},{"tone":"kijun","h":-9,"p":110.782},{"tone":"kijun","h":-8,"p":110.778},{"tone":"kijun","h":-7,"p":110.744},
      {"tone":"kijun","h":-4,"p":110.741},{"tone":"kijun","h":-3,"p":110.717},{"tone":"kijun","h":-1,"p":110.717},{"tone":"kijun","h":0,"p":110.707},
      {"tone":"kijun","h":1,"p":110.666},{"tone":"kijun","h":2,"p":110.638},{"tone":"kijun","h":3,"p":110.583},{"tone":"kijun","h":4,"p":110.542},
      {"tone":"kijun","h":5,"p":110.508},{"tone":"kijun","h":6,"p":110.498},{"tone":"kijun","h":9,"p":110.494},{"tone":"kijun","h":10,"p":110.446},
      {"tone":"kijun","h":11,"p":110.302},{"tone":"kijun","h":12,"p":110.113},{"tone":"kijun","h":13,"p":110.047},{"tone":"kijun","h":14,"p":110.019},
      {"tone":"kijun","h":15,"p":109.959},{"tone":"kijun","h":16,"p":109.861},{"tone":"kijun","h":17,"p":109.849},{"tone":"kijun","h":18,"p":109.740},
      {"tone":"kijun","h":19,"p":109.740},{"tone":"kijun","h":20,"p":109.722},{"tone":"kijun","h":21,"p":109.722},{"tone":"kijun","h":22,"p":109.680},
      {"tone":"kijun","h":23,"p":109.667},{"tone":"kijun","h":24,"p":109.653},{"tone":"kijun","h":26,"p":109.653},{"tone":"kijun","h":27,"p":109.633},
      {"tone":"kijun","h":28,"p":109.629},{"tone":"kijun","h":29,"p":109.527},{"tone":"kijun","h":30,"p":109.511},{"tone":"kijun","h":31,"p":109.495},
      {"tone":"kijun","h":32,"p":109.409},{"tone":"kijun","h":34,"p":109.409},{"tone":"kijun","h":35,"p":109.357},{"tone":"kijun","h":36,"p":109.238},
      {"tone":"kijun","h":37,"p":109.207},{"tone":"kijun","h":38,"p":109.171},{"tone":"kijun","h":39,"p":109.171},{"tone":"kijun","h":40,"p":109.104},
      {"tone":"kijun","h":41,"p":109.054},{"tone":"kijun","h":42,"p":109.030},{"tone":"kijun","h":43,"p":109.030},{"tone":"kijun","h":44,"p":108.986},
      {"tone":"kijun","h":45,"p":109.100},{"tone":"kijun","h":48,"p":109.100},{"tone":"kijun","h":49,"p":109.109},{"tone":"kijun","h":50,"p":109.138},
      {"tone":"kijun","h":64,"p":109.138},{"tone":"kijun","h":65,"p":109.128},{"tone":"kijun","h":66,"p":109.059},{"tone":"kijun","h":67,"p":109.028},
      {"tone":"kijun","h":75,"p":109.028},{"tone":"kijun","h":76,"p":109.015},{"tone":"kijun","h":77,"p":108.936},{"tone":"kijun","h":89,"p":108.936},
      {"tone":"kijun","h":90,"p":108.682},{"tone":"kijun","h":91,"p":108.744},{"tone":"kijun","h":94,"p":108.744},{"tone":"kijun","h":95,"p":108.858},
      {"tone":"kijun","h":100,"p":108.858},{"tone":"kijun","h":101,"p":108.915},{"tone":"kijun","h":105,"p":108.915},{"tone":"kijun","h":106,"p":108.908},
      {"tone":"kijun","h":108,"p":108.901},{"tone":"kijun","h":109,"p":108.870},{"tone":"kijun","h":112,"p":108.867},{"tone":"kijun","h":113,"p":108.809},
      {"tone":"kijun","h":126,"p":108.809},{"tone":"kijun","h":127,"p":108.754},{"tone":"kijun","h":137,"p":108.751},{"tone":"kijun","h":138,"p":108.801},
      {"tone":"kijun","h":139,"p":108.972},{"tone":"kijun","h":140,"p":109.014},{"tone":"kijun","h":141,"p":109.014},{"tone":"kijun","h":142,"p":109.025},
      {"tone":"kijun","h":152,"p":109.025},{"tone":"kijun","h":153,"p":109.075}
    ]
  },
  "encoding": {
    "x": {
      "field": "h", "type": "quantitative",
      "scale": {"domain": [-23.91, 208.07], "nice": false, "zero": false},
      "axis": {
        "orient": "top", "title": null, "values": [0, 48, 73, 121, 169],
        "labelExpr": "{'0':'24 janv.','48':'26 janv.','73':'29 janv.','121':'31 janv.','169':'2 févr.'}[datum.value]",
        "labelAlign": "left", "labelOffset": 2, "labelPadding": 4, "labelFontSize": 10, "labelColor": "#555555", "labelFlush": false,
        "tickSize": 0, "domainColor": "#dddddd", "domainWidth": 1.5, "gridColor": "#dddddd", "gridWidth": 1
      }
    },
    "y": {
      "field": "p", "type": "quantitative",
      "scale": {"domain": [108.0022, 111.396], "nice": false, "zero": false},
      "axis": {
        "orient": "right", "title": null,
        "values": [108.1,108.2,108.3,108.4,108.5,108.6,108.7,108.8,108.9,109,109.1,109.2,109.3,109.4,109.5,109.6,109.7,109.8,109.9,110,110.1,110.2,110.3,110.4,110.5,110.6,110.7,110.8,110.9,111,111.1,111.2,111.3],
        "labelExpr": "replace(format(datum.value,'.4f'),'.',',')",
        "labelFontSize": 10, "labelColor": "#555555", "labelPadding": 8, "labelOverlap": false,
        "tickSize": 3, "tickColor": "#cccccc", "domainColor": "#d6d6d6", "domainWidth": 2, "gridColor": "#dddddd", "gridWidth": 1.2
      }
    },
    "color": {
      "field": "tone", "type": "nominal", "legend": null,
      "scale": {
        "domain": ["ink","white","good","bad","vol","kumo1","kumo2","tenkan","kijun","chikou","cloudDown","cloudUp","level","stop","magenta","last","lastbg","blueBtn","headDark","headBrown","headTeal","slot","sep","light","dim","gold","headGreen","headRed","mint"],
        "range": ["#111111","#ffffff","#11bb22","#f01515","#ff9cff","#8a1cff","#a0622d","#1a6cff","#ff2a2a","#222222","#ab7141","#9137f5","#12c212","#ff0000","#ff00ff","#333333","#b00000","#0f5f85","#00505f","#473825","#1f4650","#2a3138","#0c1014","#d9dde0","#8d9398","#f5e61e","#00d83a","#ff3535","#a8ccd3"]
      }
    }
  },
  "layer": [
    {
      "data": {"name": "candles"},
      "mark": {"type": "rule", "strokeWidth": 1},
      "encoding": {
        "y": {"field": "high", "type": "quantitative", "scale": {"domain": [108.0022, 111.396], "nice": false, "zero": false},
          "axis": {"orient": "right", "title": null,
            "values": [108.1,108.2,108.3,108.4,108.5,108.6,108.7,108.8,108.9,109,109.1,109.2,109.3,109.4,109.5,109.6,109.7,109.8,109.9,110,110.1,110.2,110.3,110.4,110.5,110.6,110.7,110.8,110.9,111,111.1,111.2,111.3],
            "labelExpr": "replace(format(datum.value,'.4f'),'.',',')",
            "labelFontSize": 10, "labelColor": "#555555", "labelPadding": 8, "labelOverlap": false,
            "tickSize": 3, "tickColor": "#cccccc", "domainColor": "#d6d6d6", "domainWidth": 2, "gridColor": "#dddddd", "gridWidth": 1.2}},
        "y2": {"field": "low"},
        "color": {"condition": {"test": "datum.close > datum.open", "value": "#0aa60a"}, "value": "#ff0000"}
      }
    },
    {
      "data": {"name": "candles"},
      "mark": {"type": "rule", "strokeWidth": 5},
      "encoding": {
        "y": {"field": "open", "type": "quantitative", "scale": {"domain": [108.0022, 111.396], "nice": false, "zero": false},
          "axis": {"orient": "right", "title": null,
            "values": [108.1,108.2,108.3,108.4,108.5,108.6,108.7,108.8,108.9,109,109.1,109.2,109.3,109.4,109.5,109.6,109.7,109.8,109.9,110,110.1,110.2,110.3,110.4,110.5,110.6,110.7,110.8,110.9,111,111.1,111.2,111.3],
            "labelExpr": "replace(format(datum.value,'.4f'),'.',',')",
            "labelFontSize": 10, "labelColor": "#555555", "labelPadding": 8, "labelOverlap": false,
            "tickSize": 3, "tickColor": "#cccccc", "domainColor": "#d6d6d6", "domainWidth": 2, "gridColor": "#dddddd", "gridWidth": 1.2}},
        "y2": {"field": "close"},
        "color": {"condition": {"test": "datum.close > datum.open", "value": "#0aa60a"}, "value": "#ff0000"}
      }
    },
    {
      "data": {"name": "kumo"},
      "mark": {"type": "area", "opacity": 0.42},
      "encoding": {"y2": {"field": "p2"}, "detail": {"field": "cloud"}}
    },
    {"data": {"name": "chikou"}, "mark": {"type": "line", "strokeWidth": 1.2}, "encoding": {}},
    {"data": {"name": "kijun"}, "mark": {"type": "line", "strokeWidth": 1.2}, "encoding": {}},
    {"data": {"name": "tenkan"}, "mark": {"type": "line", "strokeWidth": 1.2}, "encoding": {}},
    {
      "data": {"name": "kumo"},
      "mark": {"type": "line", "strokeWidth": 1.6},
      "encoding": {
        "y": {"field": "p2", "type": "quantitative", "scale": {"domain": [108.0022, 111.396], "nice": false, "zero": false},
          "axis": {"orient": "right", "title": null,
            "values": [108.1,108.2,108.3,108.4,108.5,108.6,108.7,108.8,108.9,109,109.1,109.2,109.3,109.4,109.5,109.6,109.7,109.8,109.9,110,110.1,110.2,110.3,110.4,110.5,110.6,110.7,110.8,110.9,111,111.1,111.2,111.3],
            "labelExpr": "replace(format(datum.value,'.4f'),'.',',')",
            "labelFontSize": 10, "labelColor": "#555555", "labelPadding": 8, "labelOverlap": false,
            "tickSize": 3, "tickColor": "#cccccc", "domainColor": "#d6d6d6", "domainWidth": 2, "gridColor": "#dddddd", "gridWidth": 1.2}},
        "color": {"value": "#a0622d"}
      }
    },
    {
      "data": {"name": "kumo"},
      "mark": {"type": "line", "strokeWidth": 1.6},
      "encoding": {"color": {"value": "#8a1cff"}}
    },
    {
      "data": {"values": [
        {"h": -23.91, "h2": 208.07, "p": 110.752, "tone": "level"},
        {"h": -23.91, "h2": 208.07, "p": 110.1857, "tone": "ink"},
        {"h": -23.91, "h2": 208.07, "p": 109.5545, "tone": "last"},
        {"h": -23.91, "h2": 208.07, "p": 108.75, "tone": "stop"}
      ]},
      "mark": {"type": "rule", "strokeWidth": 1.4},
      "encoding": {"x2": {"field": "h2"}}
    },
    {
      "data": {"values": [
        {"h": -23.3, "h2": 208.07, "p": 110.9, "tone": "magenta"},
        {"h": -23.3, "h2": 208.07, "p": 109.9, "tone": "magenta"},
        {"h": -23.3, "h2": 208.07, "p": 108.81, "tone": "magenta"}
      ]},
      "mark": {"type": "rule", "strokeWidth": 2, "strokeDash": [5, 5]},
      "encoding": {"x2": {"field": "h2"}}
    },
    {
      "data": {"values": [{"h": -18, "p": 111.4, "p2": 108.0022, "tone": "ink"}]},
      "mark": {"type": "rule", "strokeWidth": 1.4},
      "encoding": {"y2": {"field": "p2"}}
    },
    {
      "data": {"values": [{"h": 145, "p": 110.752, "tone": "level"}, {"h": 145, "p": 108.75, "tone": "stop"}]},
      "mark": {"type": "point", "filled": true, "size": 28, "opacity": 1},
      "encoding": {}
    },
    {
      "data": {"values": [{"h": 145, "p": 109.203, "tone": "white"}]},
      "mark": {"type": "point", "shape": "M0,-0.75L0.85,0.6H-0.85Z", "size": 196, "filled": true, "opacity": 1, "stroke": "#333333", "strokeWidth": 1.2},
      "encoding": {"color": {"value": "#29d3f0"}}
    },
    {
      "data": {"values": [{"h": 153.9, "p": 111.371, "tone": "white"}]},
      "mark": {"type": "point", "shape": "M0,-1L0.6,-0.4V1H-0.6V-0.4Z", "size": 169, "filled": true, "opacity": 1, "stroke": "#555555", "strokeWidth": 1},
      "encoding": {"color": {"value": "#bbbbbb"}}
    },
    {
      "data": {"values": [{"h": -17.5, "p": 110.148, "tone": "white"}]},
      "mark": {"type": "point", "shape": "M-0.55,-1V0.5L-0.2,0.2L0.1,0.9L0.35,0.8L0.05,0.1H0.5Z", "size": 324, "filled": true, "opacity": 1, "stroke": "#222222", "strokeWidth": 1},
      "encoding": {"color": {"value": "#ffffff"}}
    },
    {
      "data": {"values": [{"h": -1.2, "h2": 19.41, "p": 111.386, "p2": 110.453, "tone": "white"}]},
      "mark": {"type": "rect", "fillOpacity": 0.82, "stroke": "#000000", "strokeWidth": 1.5},
      "encoding": {"x2": {"field": "h2"}, "y2": {"field": "p2"}}
    },
    {
      "data": {"values": [
        {"h": -0.95, "p": 111.289, "label": "Ouverture:", "tone": "ink"},
        {"h": -0.95, "p": 111.231, "label": "Plus Haut:", "tone": "ink"},
        {"h": -0.95, "p": 111.174, "label": "Plus Bas:", "tone": "ink"},
        {"h": -0.95, "p": 111.116, "label": "Clôture:", "tone": "ink"},
        {"h": -0.95, "p": 111.001, "label": "Dernier:", "tone": "ink"},
        {"h": -0.95, "p": 110.943, "label": "Intervalle:", "tone": "good"},
        {"h": -0.95, "p": 110.885, "label": "Perf.:", "tone": "bad"},
        {"h": -0.95, "p": 110.828, "label": "Volatilité:", "tone": "vol"},
        {"h": -0.95, "p": 110.770, "label": "Ichimoku", "tone": "kumo1"},
        {"h": 0.25, "p": 110.712, "label": "Kumo 1:", "tone": "kumo1"},
        {"h": 0.25, "p": 110.655, "label": "Kumo 2:", "tone": "kumo2"},
        {"h": 0.25, "p": 110.597, "label": "Kijun:", "tone": "bad"},
        {"h": 0.25, "p": 110.539, "label": "Tenkan:", "tone": "tenkan"},
        {"h": 0.25, "p": 110.482, "label": "Chiku:", "tone": "ink"}
      ]},
      "mark": {"type": "text", "align": "left", "baseline": "middle", "fontSize": 11.5},
      "encoding": {"text": {"field": "label"}}
    },
    {
      "data": {"values": [
        {"h": 19, "p": 111.347, "label": "23 janv. 2018 06:00:00", "tone": "ink"},
        {"h": 19, "p": 111.289, "label": "110,7835", "tone": "ink"},
        {"h": 19, "p": 111.231, "label": "110,8535", "tone": "ink"},
        {"h": 19, "p": 111.174, "label": "110,7715", "tone": "ink"},
        {"h": 19, "p": 111.116, "label": "110,8425", "tone": "ink"},
        {"h": 19, "p": 111.001, "label": "109,5545", "tone": "ink"},
        {"h": 19, "p": 110.943, "label": "0,0590 / 0,05 %", "tone": "good"},
        {"h": 19, "p": 110.885, "label": "-1,2880 / -1,16 %", "tone": "bad"},
        {"h": 19, "p": 110.828, "label": "11,89 %", "tone": "vol"},
        {"h": 19, "p": 110.712, "label": "110,7380", "tone": "kumo1"},
        {"h": 19, "p": 110.655, "label": "110,9880", "tone": "kumo2"},
        {"h": 19, "p": 110.597, "label": "110,8863", "tone": "bad"},
        {"h": 19, "p": 110.539, "label": "110,7887", "tone": "tenkan"},
        {"h": 19, "p": 110.482, "label": "109,9525", "tone": "ink"}
      ]},
      "mark": {"type": "text", "align": "right", "baseline": "middle", "fontSize": 11.5},
      "encoding": {"text": {"field": "label"}}
    },
    {
      "data": {"values": [
        {"h": -23.91, "h2": -22.8, "p": 111.281, "p2": 111.229, "tone": "white"},
        {"h": -22.6, "h2": -21.05, "p": 111.281, "p2": 111.229, "tone": "white"},
        {"h": -20.84, "h2": -9.6, "p": 111.281, "p2": 111.229, "tone": "white"}
      ]},
      "mark": {"type": "rect", "stroke": "#333333", "strokeWidth": 1},
      "encoding": {"x2": {"field": "h2"}, "y2": {"field": "p2"}}
    },
    {
      "data": {"values": [
        {"h": -20.7, "p": 111.256, "label": "Ichimoku (9, 26, 52)", "tone": "kumo1"},
        {"h": -23.85, "p": 111.256, "label": "x", "tone": "kumo1"},
        {"h": -22.3, "p": 111.248, "label": "_", "tone": "kumo1"}
      ]},
      "mark": {"type": "text", "align": "left", "baseline": "middle", "fontSize": 10},
      "encoding": {"text": {"field": "label"}}
    },
    {
      "data": {"values": [{"h": -23.91, "h2": 215.7, "p": 111.709, "p2": 111.561, "tone": "white"}]},
      "mark": {"type": "rect"},
      "encoding": {
        "x2": {"field": "h2"}, "y2": {"field": "p2"},
        "color": {"value": {"x1": 0, "y1": 0, "x2": 0, "y2": 1, "gradient": "linear", "stops": [{"offset": 0, "color": "#0b2b33"}, {"offset": 0.04, "color": "#0b2b33"}, {"offset": 0.05, "color": "#0a8ba3"}, {"offset": 0.12, "color": "#047488"}, {"offset": 1, "color": "#005665"}]}}
      }
    },
    {
      "data": {"values": [
        {"h": -23.91, "h2": 215.7, "p": 111.557, "p2": 111.458, "tone": "white"},
        {"h": -23.91, "h2": 215.7, "p": 107.998, "p2": 107.912, "tone": "white"}
      ]},
      "mark": {"type": "rect"},
      "encoding": {
        "x2": {"field": "h2"}, "y2": {"field": "p2"},
        "color": {"value": {"x1": 0, "y1": 0, "x2": 0, "y2": 1, "gradient": "linear", "stops": [{"offset": 0, "color": "#2f363e"}, {"offset": 1, "color": "#1e252d"}]}}
      }
    },
    {
      "data": {"values": [
        {"h": 177.6, "h2": 185.75, "p": 111.705, "p2": 111.561, "tone": "headDark"},
        {"h": 185.8, "h2": 195.0, "p": 111.705, "p2": 111.561, "tone": "headBrown"},
        {"h": 195.2, "h2": 204.5, "p": 111.705, "p2": 111.561, "tone": "headTeal"},
        {"h": 204.6, "h2": 205.85, "p": 111.693, "p2": 111.664, "tone": "slot"},
        {"h": 204.6, "h2": 205.85, "p": 111.656, "p2": 111.631, "tone": "slot"},
        {"h": 204.6, "h2": 205.85, "p": 111.623, "p2": 111.598, "tone": "slot"},
        {"h": 204.6, "h2": 205.85, "p": 111.590, "p2": 111.569, "tone": "slot"},
        {"h": -23.91, "h2": 215.7, "p": 111.565, "p2": 111.556, "tone": "sep"},
        {"h": -23.91, "h2": 215.7, "p": 111.462, "p2": 111.455, "tone": "sep"},
        {"h": -23.91, "h2": -20.9, "p": 111.553, "p2": 111.466, "tone": "blueBtn"},
        {"h": 197.3, "h2": 200.9, "p": 111.553, "p2": 111.466, "tone": "blueBtn"},
        {"h": -17.1, "h2": -13.4, "p": 107.994, "p2": 107.912, "tone": "blueBtn"},
        {"h": -13.25, "h2": -9.6, "p": 107.994, "p2": 107.912, "tone": "blueBtn"},
        {"h": 208.8, "h2": 212.5, "p": 107.994, "p2": 107.912, "tone": "blueBtn"},
        {"h": 212.6, "h2": 215.7, "p": 107.994, "p2": 107.912, "tone": "blueBtn"},
        {"h": -23.91, "h2": -11.37, "p": 111.454, "p2": 111.402, "tone": "ink"}
      ]},
      "mark": {"type": "rect"},
      "encoding": {"x2": {"field": "h2"}, "y2": {"field": "p2"}}
    },
    {
      "data": {"values": [{"h": -11.63, "p": 111.43, "label": "23 janv. 2018 06:00:00", "tone": "white"}]},
      "mark": {"type": "text", "align": "right", "baseline": "middle", "fontSize": 10.5},
      "encoding": {"text": {"field": "label"}}
    },
    {
      "data": {"values": [
        {"h": -25.1, "h2": 217.2, "p": 111.76, "p2": 111.709, "tone": "white"},
        {"h": -25.1, "h2": 217.2, "p": 107.912, "p2": 107.87, "tone": "white"},
        {"h": -25.1, "h2": -23.91, "p": 111.76, "p2": 107.87, "tone": "white"},
        {"h": 215.7, "h2": 217.2, "p": 111.76, "p2": 107.87, "tone": "white"}
      ]},
      "mark": {"type": "rect"},
      "encoding": {"x2": {"field": "h2"}, "y2": {"field": "p2"}}
    },
    {
      "data": {"values": [{"h": -25.1, "h2": 217.2, "p": 111.735, "p2": 111.709, "tone": "white"}]},
      "mark": {"type": "rect"},
      "encoding": {
        "x2": {"field": "h2"}, "y2": {"field": "p2"},
        "color": {"value": {"x1": 0, "y1": 0, "x2": 0, "y2": 1, "gradient": "linear", "stops": [{"offset": 0, "color": "#ffffff"}, {"offset": 1, "color": "#c9c9c9"}]}}
      }
    },
    {
      "data": {"values": [{"h": -25.1, "h2": 217.2, "p": 107.912, "p2": 107.89, "tone": "white"}]},
      "mark": {"type": "rect"},
      "encoding": {
        "x2": {"field": "h2"}, "y2": {"field": "p2"},
        "color": {"value": {"x1": 0, "y1": 0, "x2": 0, "y2": 1, "gradient": "linear", "stops": [{"offset": 0, "color": "#c9c9c9"}, {"offset": 1, "color": "#ffffff"}]}}
      }
    },
    {
      "data": {"values": [{"h": -24.6, "h2": -23.91, "p": 111.709, "p2": 107.912, "tone": "white"}]},
      "mark": {"type": "rect"},
      "encoding": {
        "x2": {"field": "h2"}, "y2": {"field": "p2"},
        "color": {"value": {"x1": 0, "y1": 0, "x2": 1, "y2": 0, "gradient": "linear", "stops": [{"offset": 0, "color": "#ffffff"}, {"offset": 1, "color": "#d4d4d4"}]}}
      }
    },
    {
      "data": {"values": [{"h": 215.7, "h2": 216.4, "p": 111.709, "p2": 107.912, "tone": "white"}]},
      "mark": {"type": "rect"},
      "encoding": {
        "x2": {"field": "h2"}, "y2": {"field": "p2"},
        "color": {"value": {"x1": 0, "y1": 0, "x2": 1, "y2": 0, "gradient": "linear", "stops": [{"offset": 0, "color": "#d4d4d4"}, {"offset": 1, "color": "#ffffff"}]}}
      }
    },
    {
      "data": {"values": [
        {"h": -20.15, "p": 111.705, "p2": 111.561, "tone": "sep"},
        {"h": -16.9, "p": 111.705, "p2": 111.561, "tone": "sep"},
        {"h": 205.96, "p": 111.705, "p2": 111.561, "tone": "sep"},
        {"h": 209.3, "p": 111.705, "p2": 111.561, "tone": "sep"},
        {"h": 212.6, "p": 111.705, "p2": 111.561, "tone": "sep"},
        {"h": -20.84, "p": 111.553, "p2": 111.462, "tone": "sep"},
        {"h": -10.24, "p": 111.553, "p2": 111.462, "tone": "sep"},
        {"h": 1.12, "p": 111.553, "p2": 111.462, "tone": "sep"},
        {"h": 14.1, "p": 111.553, "p2": 111.462, "tone": "sep"},
        {"h": 17.05, "p": 111.553, "p2": 111.462, "tone": "sep"},
        {"h": 19.9, "p": 111.553, "p2": 111.462, "tone": "sep"},
        {"h": 36.3, "p": 111.553, "p2": 111.462, "tone": "sep"},
        {"h": 174.8, "p": 111.553, "p2": 111.462, "tone": "sep"},
        {"h": 178.5, "p": 111.553, "p2": 111.462, "tone": "sep"},
        {"h": 182.2, "p": 111.553, "p2": 111.462, "tone": "sep"},
        {"h": 186, "p": 111.553, "p2": 111.462, "tone": "sep"},
        {"h": 189.7, "p": 111.553, "p2": 111.462, "tone": "sep"},
        {"h": 193.5, "p": 111.553, "p2": 111.462, "tone": "sep"},
        {"h": 197.2, "p": 111.553, "p2": 111.462, "tone": "sep"},
        {"h": 201, "p": 111.553, "p2": 111.462, "tone": "sep"},
        {"h": -20.9, "p": 107.994, "p2": 107.912, "tone": "sep"},
        {"h": -17.1, "p": 107.994, "p2": 107.912, "tone": "sep"},
        {"h": -13.4, "p": 107.994, "p2": 107.912, "tone": "sep"},
        {"h": -9.6, "p": 107.994, "p2": 107.912, "tone": "sep"},
        {"h": 62.55, "p": 107.994, "p2": 107.912, "tone": "sep"},
        {"h": 75.1, "p": 107.994, "p2": 107.912, "tone": "sep"},
        {"h": 87.6, "p": 107.994, "p2": 107.912, "tone": "sep"},
        {"h": 100.2, "p": 107.994, "p2": 107.912, "tone": "sep"},
        {"h": 112.7, "p": 107.994, "p2": 107.912, "tone": "sep"},
        {"h": 125.3, "p": 107.994, "p2": 107.912, "tone": "sep"},
        {"h": 197.4, "p": 107.994, "p2": 107.912, "tone": "sep"},
        {"h": 201.2, "p": 107.994, "p2": 107.912, "tone": "sep"},
        {"h": 205, "p": 107.994, "p2": 107.912, "tone": "sep"},
        {"h": 208.7, "p": 107.994, "p2": 107.912, "tone": "sep"}
      ]},
      "mark": {"type": "rule", "strokeWidth": 1},
      "encoding": {"y2": {"field": "p2"}}
    },
    {
      "data": {"values": [
        {"h": 208.45, "h2": 213.7, "p": 110.927, "p2": 110.873, "tone": "magenta"},
        {"h": 208.45, "h2": 213.7, "p": 109.927, "p2": 109.873, "tone": "magenta"},
        {"h": 208.7, "h2": 214.2, "p": 108.839, "p2": 108.789, "tone": "magenta"},
        {"h": 209.3, "h2": 215, "p": 110.858, "p2": 110.814, "tone": "ink"},
        {"h": 209.3, "h2": 215.3, "p": 110.21, "p2": 110.16, "tone": "ink"},
        {"h": 208.45, "h2": 214.6, "p": 109.6, "p2": 109.526, "tone": "lastbg"}
      ]},
      "mark": {"type": "rect", "cornerRadius": 2},
      "encoding": {"x2": {"field": "h2"}, "y2": {"field": "p2"}}
    },
    {
      "data": {"values": [
        {"h": 211.08, "p": 110.9, "label": "110,9000", "tone": "ink"},
        {"h": 211.08, "p": 109.9, "label": "109,9000", "tone": "ink"},
        {"h": 211.45, "p": 108.814, "label": "108,8100", "tone": "ink"}
      ]},
      "mark": {"type": "text", "align": "center", "baseline": "middle", "fontSize": 10},
      "encoding": {"text": {"field": "label"}}
    },
    {
      "data": {"values": [
        {"h": 212.2, "p": 110.836, "label": "110,8425", "tone": "white"},
        {"h": 212.3, "p": 110.185, "label": "110,1857", "tone": "white"},
        {"h": 211.5, "p": 109.563, "label": "109,5545", "tone": "white"},
        {"h": -18.5, "p": 111.631, "label": "1", "tone": "mint"},
        {"h": 15.61, "p": 111.513, "label": "1", "tone": "gold"},
        {"h": 18.49, "p": 111.513, "label": "2", "tone": "gold"},
        {"h": 180.5, "p": 111.513, "label": "TT", "tone": "dim"},
        {"h": 67.4, "p": 107.957, "label": "Favoris", "tone": "light"},
        {"h": 81.35, "p": 107.957, "label": "Période", "tone": "light"},
        {"h": 93.9, "p": 107.957, "label": "Outils De Dessin", "tone": "light"},
        {"h": 106.45, "p": 107.957, "label": "Indicateurs", "tone": "light"},
        {"h": 119, "p": 107.957, "label": "Figures", "tone": "light"}
      ]},
      "mark": {"type": "text", "align": "center", "baseline": "middle", "fontSize": 10.5, "fontWeight": "bold"},
      "encoding": {"text": {"field": "label"}}
    },
    {
      "data": {"values": [
        {"h": -20.08, "p": 111.513, "label": "1 heure", "tone": "light"},
        {"h": -9.42, "p": 111.513, "label": "10 Jours", "tone": "light"},
        {"h": 4.82, "p": 111.513, "label": "Modèles", "tone": "light"},
        {"h": 23.7, "p": 111.513, "label": "Cours Moyen", "tone": "light"},
        {"h": 204.7, "p": 111.513, "label": "Paramètres", "tone": "light"}
      ]},
      "mark": {"type": "text", "align": "left", "baseline": "middle", "fontSize": 11, "fontWeight": "bold"},
      "encoding": {"text": {"field": "label"}}
    },
    {
      "data": {"values": [{"h": -15.93, "p": 111.631, "label": "USD/JPY", "tone": "white"}]},
      "mark": {"type": "text", "align": "left", "baseline": "middle", "fontSize": 15},
      "encoding": {"text": {"field": "label"}}
    },
    {
      "data": {"values": [
        {"h": 186.9, "p": 111.631, "label": "109,551", "tone": "headRed"},
        {"h": 196.2, "p": 111.631, "label": "109,558", "tone": "headRed"}
      ]},
      "mark": {"type": "text", "align": "left", "baseline": "middle", "fontSize": 12, "fontWeight": "bold"},
      "encoding": {"text": {"field": "label"}}
    },
    {
      "data": {"values": [
        {"h": 185.1, "p": 111.661, "label": "▲ 0,33 %", "tone": "headGreen"},
        {"h": 185.1, "p": 111.606, "label": "36,3", "tone": "headGreen"}
      ]},
      "mark": {"type": "text", "align": "right", "baseline": "middle", "fontSize": 12, "fontWeight": "bold"},
      "encoding": {"text": {"field": "label"}}
    },
    {
      "data": {"values": [
        {"h": -22.4, "p": 111.631, "icon": "menu", "tone": "mint"},
        {"h": -18.5, "p": 111.631, "icon": "ring", "tone": "mint"},
        {"h": -6.1, "p": 111.631, "icon": "search", "tone": "mint"},
        {"h": 207.6, "p": 111.631, "icon": "expand", "tone": "mint"},
        {"h": 211, "p": 111.631, "icon": "popout", "tone": "mint"},
        {"h": 214.4, "p": 111.631, "icon": "close", "tone": "mint"},
        {"h": -22.8, "p": 111.511, "icon": "list", "tone": "white"},
        {"h": 3.06, "p": 111.511, "icon": "sliders", "tone": "dim"},
        {"h": 21.9, "p": 111.511, "icon": "bars", "tone": "dim"},
        {"h": 176.7, "p": 111.511, "icon": "align", "tone": "dim"},
        {"h": 184.2, "p": 111.511, "icon": "grid", "tone": "dim"},
        {"h": 188, "p": 111.511, "icon": "gridpen", "tone": "dim"},
        {"h": 191.8, "p": 111.511, "icon": "squares", "tone": "dim"},
        {"h": 195.5, "p": 111.511, "icon": "candle", "tone": "dim"},
        {"h": 199.3, "p": 111.511, "icon": "tag", "tone": "white"},
        {"h": 203.1, "p": 111.511, "icon": "gear", "tone": "dim"},
        {"h": -22.8, "p": 107.953, "icon": "refresh", "tone": "dim"},
        {"h": -19, "p": 107.953, "icon": "no", "tone": "dim"},
        {"h": 199.4, "p": 107.953, "icon": "fit", "tone": "dim"},
        {"h": 203.1, "p": 107.953, "icon": "minus", "tone": "dim"},
        {"h": 206.8, "p": 107.953, "icon": "plus", "tone": "dim"},
        {"h": 210.7, "p": 107.953, "icon": "cross", "tone": "white"},
        {"h": 214.6, "p": 107.953, "icon": "zoomv", "tone": "white"}
      ]},
      "mark": {"type": "point", "filled": false, "size": 196, "opacity": 1, "strokeWidth": 1.4},
      "encoding": {
        "shape": {
          "field": "icon", "type": "nominal", "legend": null,
          "scale": {
            "domain": ["menu","ring","search","expand","popout","close","list","sliders","bars","align","grid","gridpen","squares","candle","tag","gear","refresh","no","fit","minus","plus","cross","zoomv"],
            "range": [
              "M-1.1,-0.8H1.1M-1.1,0H1.1M-1.1,0.8H1.1",
              "M1,0A1,1 0 1,1 -1,0A1,1 0 1,1 1,0",
              "M0.4,-0.2A0.6,0.6 0 1,1 -0.8,-0.2A0.6,0.6 0 1,1 0.4,-0.2M0.25,0.25L0.9,0.9",
              "M0.2,-0.2L0.8,-0.8M-0.2,0.2L-0.8,0.8M0.8,-0.8H0.3M0.8,-0.8V-0.3M-0.8,0.8H-0.3M-0.8,0.8V0.3",
              "M-0.7,-0.5H0.1M-0.7,-0.5V0.8H0.6V0M0,0.1L0.8,-0.8M0.3,-0.8H0.8V-0.3",
              "M-0.7,-0.7L0.7,0.7M-0.7,0.7L0.7,-0.7",
              "M-0.8,-0.9H0.8V0.9H-0.8ZM-0.45,-0.45H0.45M-0.45,0H0.45M-0.45,0.45H0.45",
              "M-0.9,-0.7H0.9M-0.9,0H0.9M-0.9,0.7H0.9M-0.3,-1V-0.4M0.3,-0.3V0.3M-0.3,0.4V1",
              "M-0.8,0.1V0.9M-0.1,-0.5V0.9M0.6,-1V0.5",
              "M-1,0.8H0.7V-0.8H0.1M0.1,-0.4H0.7M0.1,0H0.7M0.1,0.4H0.7",
              "M-0.5,-1V1M0.5,-1V1M-1,-0.5H1M-1,0.5H1",
              "M-0.7,-1V0.2M-0.1,-1V0.2M-1,-0.6H0.3M-1,-0.1H0.3M-0.1,0.9L0.9,-0.3",
              "M-0.9,-0.2H0.2V0.9H-0.9ZM-0.6,-0.2V-0.6H0.5V0.5H0.2M-0.3,-0.6V-0.9H0.9V0.2H0.5",
              "M-1,0.3L1,-0.3M0,-1V1M-0.3,-0.4H0.3V0.4H-0.3Z",
              "M-0.9,0L-0.5,-0.6H0.9V0.6H-0.5Z",
              "M0.7,0L0.35,0.6H-0.35L-0.7,0L-0.35,-0.6H0.35ZM0.7,0H1M-0.7,0H-1M0.35,0.6L0.5,0.9M-0.35,0.6L-0.5,0.9M0.35,-0.6L0.5,-0.9M-0.35,-0.6L-0.5,-0.9",
              "M0.55,-0.6A0.85,0.85 0 1,1 -0.55,-0.6M-0.55,-0.6V-1M-0.55,-0.6H-1",
              "M0.85,0A0.85,0.85 0 1,1 -0.85,0A0.85,0.85 0 1,1 0.85,0M-0.6,0.6L0.6,-0.6",
              "M0,-1V0.1M-0.35,-0.5H0.35M-0.9,0.6H0.9M-0.9,0.6L-0.5,0.3M0.9,0.6L0.5,0.3M-0.9,0.6L-0.5,0.9M0.9,0.6L0.5,0.9",
              "M-0.5,0H0.5",
              "M-0.5,0H0.5M0,-0.5V0.5",
              "M-1,0H1M0,-1V1",
              "M-0.8,0H0.8M0,-1V1M-0.35,-0.65L0,-1L0.35,-0.65M-0.35,0.65L0,1L0.35,0.65"
            ]
          }
        }
      }
    },
    {
      "data": {"values": [
        {"h": 193.3, "p": 111.631, "icon": "down", "tone": "headRed"},
        {"h": 202.6, "p": 111.631, "icon": "up", "tone": "headRed"},
        {"h": -11.4, "p": 111.511, "icon": "drop", "tone": "dim"},
        {"h": -0.1, "p": 111.511, "icon": "drop", "tone": "dim"},
        {"h": 12.3, "p": 111.511, "icon": "drop", "tone": "dim"},
        {"h": 34.4, "p": 111.511, "icon": "drop", "tone": "dim"},
        {"h": 214.2, "p": 111.511, "icon": "drop", "tone": "dim"},
        {"h": 73.6, "p": 107.957, "icon": "star", "tone": "dim"},
        {"h": -15.2, "p": 107.953, "icon": "pencil", "tone": "white"},
        {"h": -11.5, "p": 107.953, "icon": "updown", "tone": "white"}
      ]},
      "mark": {"type": "point", "filled": true, "size": 121, "opacity": 1},
      "encoding": {
        "shape": {
          "field": "icon", "type": "nominal", "legend": null,
          "scale": {
            "domain": ["down","up","drop","star","pencil","updown"],
            "range": [
              "M-1.25,-1.6C0.35,-1.6 0.7,-0.55 0.7,0.2H1.4L0.2,1.8L-1.05,0.2H-0.2C-0.2,-0.55 -0.55,-0.9 -1.25,-1.05Z",
              "M-1.25,1.6C0.35,1.6 0.7,0.55 0.7,-0.2H1.4L0.2,-1.8L-1.05,-0.2H-0.2C-0.2,0.55 -0.55,0.9 -1.25,1.05Z",
              "M-0.6,-0.5H0.6L0,0.6Z",
              "M0,-1.3L0.36,-0.4L1.3,-0.4L0.58,0.2L0.8,1.17L0,0.58L-0.8,1.17L-0.58,0.2L-1.3,-0.4L-0.36,-0.4Z",
              "M-1.25,1.25L-1,0.35L0.7,-1.3L1.3,-0.7L-0.35,1Z",
              "M-0.75,-0.2L0,-1.1L0.75,-0.2ZM-0.5,0.4H0.5L0,1.1Z"
            ]
          }
        }
      }
    }
  ],
  "resolve": {"scale": {"shape": "independent"}}
}
